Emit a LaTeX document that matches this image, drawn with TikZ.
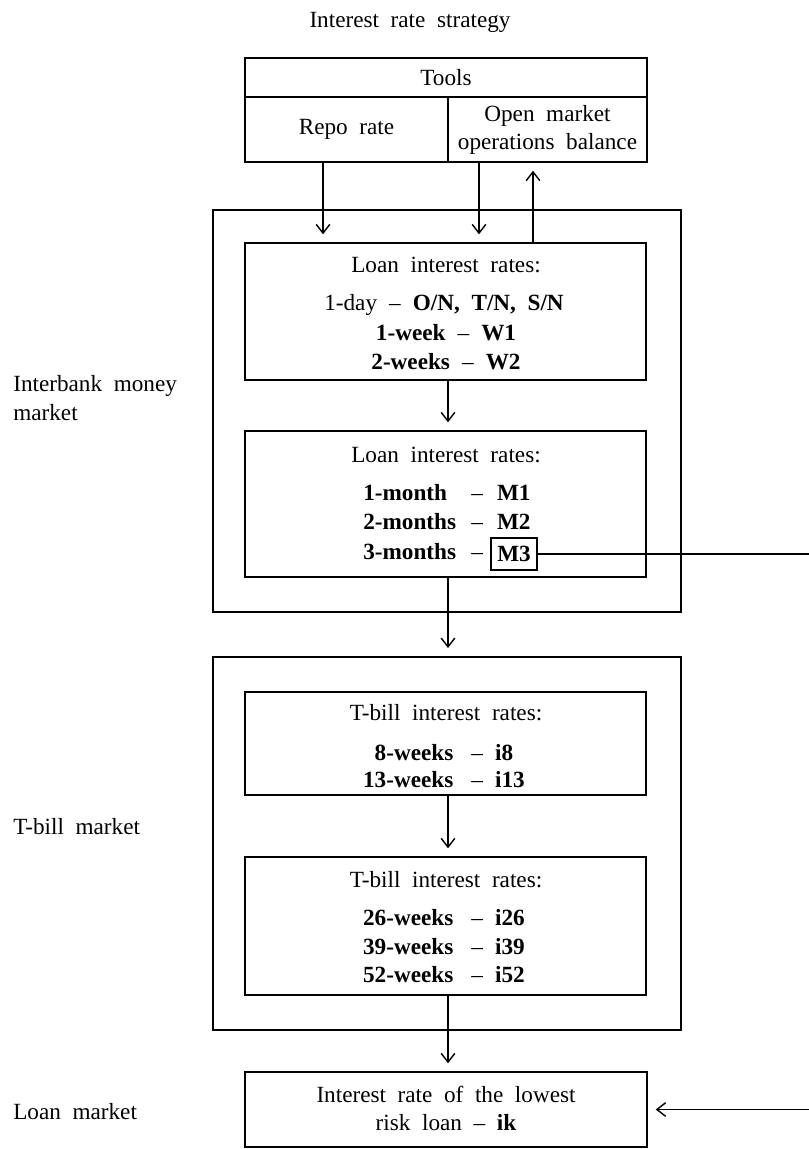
\documentclass[tikz,border=0pt]{standalone}
\usepackage{fontspec}
\setmainfont[WordSpace=2]{Liberation Serif}
\usetikzlibrary{arrows.meta, fit, positioning}

\newcommand{\gapdash}{\hspace{0.3cm}--\hspace{0.3cm}}
\newcommand{\mlab}[1]{\makebox[2.6cm][l]{\textbf{#1}}\hspace{0.1cm}--}
\newcommand{\tlab}[1]{\makebox[2.3cm][r]{\textbf{#1}}\hspace{0.45cm}--}

\begin{document}
\begin{tikzpicture}[
    x=0.025cm, y=-0.025cm,
    font=\fontsize{16.5}{20}\selectfont,
    panel/.style={draw, line width=1pt, inner sep=0pt},
    market/.style={draw, line width=1.4pt, inner sep=0pt},
    txt/.style={inner sep=0pt, align=center},
    rate/.style={inner sep=0pt, anchor=west},
    arr/.style={-{Straight Barb[length=0.22cm,width=0.34cm]}, line width=1pt, shorten >=0.2cm}
  ]
  \useasboundingbox (0,0) rectangle (808,1149);

  % tools of the strategy
  \node (title) [txt] at (410,22) {Interest rate strategy};
  \node (tools) [panel, fit={(245,58) (647,97)}] {};
  \node (repo) [panel, fit={(245,97) (448,162)}] {};
  \node (omo) [panel, fit={(448,97) (647,162)}] {};
  \node (toolsT) [txt] at (tools.center) {Tools};
  \node (repoT) [txt] at (repo.center) {Repo rate};
  \node (omoT) [txt] at (omo.center) {Open market\\operations balance};

  % market frames
  \node (interbank) [market, fit={(213,210) (681,612)}] {};
  \node (tbill) [market, fit={(213,657) (681,1030)}] {};
  \node (ibm) [txt, anchor=west, align=left] at (13,398) {Interbank money\\market};
  \node (tbm) [txt, anchor=west] at (13,827) {T-bill market};
  \node (lnm) [txt, anchor=west] at (13,1112) {Loan market};

  % interbank loan rates
  \node (lr1) [panel, fit={(245,243) (646,380)}] {};
  \node (lr1h) [txt] at (446,265) {Loan interest rates:};
  \node (day) [txt] at (444,305) {1-day\gapdash\textbf{O/N, T/N, S/N}};
  \node (wk1) [txt] at (446,333) {\textbf{1-week}\gapdash\textbf{W1}};
  \node (wk2) [txt] at (446,362) {\textbf{2-weeks}\gapdash\textbf{W2}};

  \node (lr2) [panel, fit={(245,431) (646,577)}] {};
  \node (lr2h) [txt] at (446,455) {Loan interest rates:};
  \node (mo1) [rate] at (363,493) {\mlab{1-month}\hspace{0.35cm}\textbf{M1}};
  \node (mo2) [rate] at (363,522) {\mlab{2-months}\hspace{0.35cm}\textbf{M2}};
  \node (mo3) [rate] at (363,552) {\mlab{3-months}};
  \node (m3) [draw, line width=0.9pt, minimum width=1.15cm, minimum height=0.8cm, inner sep=0pt] at (514,554) {\textbf{M3}};

  % T-bill rates
  \node (tb1) [panel, fit={(245,692) (646,795)}] {};
  \node (tb1h) [txt] at (446,713) {T-bill interest rates:};
  \node (w8) [rate] at (361,753) {\tlab{8-weeks}\hspace{0.3cm}\textbf{i8}};
  \node (w13) [rate] at (361,780) {\tlab{13-weeks}\hspace{0.3cm}\textbf{i13}};

  \node (tb2) [panel, fit={(245,857) (646,995)}] {};
  \node (tb2h) [txt] at (446,880) {T-bill interest rates:};
  \node (w26) [rate] at (361,918) {\tlab{26-weeks}\hspace{0.3cm}\textbf{i26}};
  \node (w39) [rate] at (361,947) {\tlab{39-weeks}\hspace{0.3cm}\textbf{i39}};
  \node (w52) [rate] at (361,975) {\tlab{52-weeks}\hspace{0.3cm}\textbf{i52}};

  % loan market
  \node (loan) [panel, fit={(245,1072) (647,1147)}] {};
  \node (loanT) [txt] at (446,1108) {Interest rate of the lowest\\risk loan -- \textbf{ik}};

  % connector columns
  \coordinate (xr) at (323,0);
  \coordinate (xo) at (479,0);
  \coordinate (xu) at (533,0);
  \coordinate (xc) at (448,0);
  \coordinate (rim) at (810,0);

  \draw[arr] (repo.south -| xr) -- (lr1.north -| xr);
  \draw[arr] (omo.south -| xo) -- (lr1.north -| xo);
  \draw[arr] (lr1.north -| xu) -- (omo.south -| xu);
  \draw[arr] (lr1.south -| xc) -- (lr2.north -| xc);
  \draw[arr] (lr2.south -| xc) -- (tbill.north -| xc);
  \draw[arr] (tb1.south -| xc) -- (tb2.north -| xc);
  \draw[arr] (tb2.south -| xc) -- (loan.north -| xc);
  \draw[arr] (m3.east) -- (m3.east -| rim) |- (loan.east);
\end{tikzpicture}
\end{document}
